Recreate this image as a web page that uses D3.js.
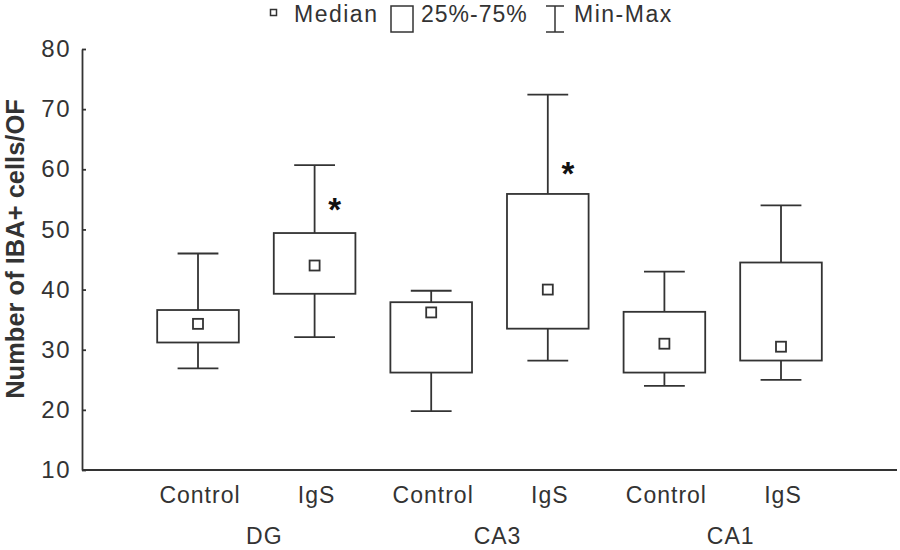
<!DOCTYPE html>
<html>
<head>
<meta charset="utf-8">
<script src="https://cdn.jsdelivr.net/npm/d3@7"></script>
<style>
  html, body { margin: 0; padding: 0; background: #fff; }
  svg { display: block; }
  text { font-family: "Liberation Sans", Arial, sans-serif; fill: #333; }
</style>
</head>
<body>
<svg id="chart" width="900" height="550"></svg>
<script>
// ---- data ----
const regions = ["DG", "CA3", "CA1"];
const conditions = ["Control", "IgS", "Control", "IgS", "Control", "IgS"];
const mins    = [26.9, 32.1, 19.8, 28.2, 24.0, 25.0];
const q1      = [31.2, 39.3, 26.2, 33.5, 26.2, 28.2];
const medians = [34.3, 44.0, 36.2, 40.0, 31.0, 30.5];
const q3      = [36.6, 49.4, 37.9, 55.9, 36.3, 44.5];
const maxs    = [46.0, 60.7, 39.8, 72.4, 43.0, 54.0];
const starBoxes  = [1, 3];
const starValues = [54.5, 60.5];
const yTicks = [10, 20, 30, 40, 50, 60, 70, 80];

// ---- layout ----
const svg = d3.select("#chart");
const ink = "#333";
const sw = 1.8;

const y = d3.scaleLinear().domain([10, 80]).range([470, 49]);
const idx = d3.range(conditions.length);
const x = d3.scalePoint().domain(idx).range([198, 781]);
const step = x(1) - x(0);
const boxW = step * 0.7;
const capW = boxW / 2;

// axes
const yAxis = d3.axisLeft(y).tickValues(yTicks).tickSizeInner(-4).tickSizeOuter(0).tickPadding(11);
const gy = svg.append("g").attr("transform", "translate(82,0)").call(yAxis);
gy.select(".domain").attr("stroke", ink).attr("stroke-width", sw);
gy.selectAll(".tick line").attr("stroke", ink).attr("stroke-width", sw);
gy.selectAll(".tick text")
  .attr("font-size", 24).attr("letter-spacing", "1.5px")
  .attr("font-family", "Liberation Sans, Arial, sans-serif").attr("fill", ink);

svg.append("line")
  .attr("x1", 82).attr("x2", 897).attr("y1", y(10)).attr("y2", y(10))
  .attr("stroke", ink).attr("stroke-width", sw);

// y title
svg.append("text")
  .attr("transform", "translate(24,249) rotate(-90)")
  .attr("text-anchor", "middle")
  .attr("font-size", 25.5).attr("font-weight", "bold")
  .text("Number of IBA+ cells/OF");

// x labels
svg.selectAll(".cond").data(idx).join("text")
  .attr("class", "cond")
  .attr("x", i => x(i) + 2).attr("y", 503)
  .attr("text-anchor", "middle")
  .attr("font-size", 23).attr("letter-spacing", "1px")
  .text(i => conditions[i]);

svg.selectAll(".region").data(regions).join("text")
  .attr("class", "region")
  .attr("x", (d, j) => (x(2 * j) + x(2 * j + 1)) / 2 + 8).attr("y", 544)
  .attr("text-anchor", "middle")
  .attr("font-size", 23).attr("letter-spacing", "1px")
  .text(d => d);

// boxes
const g = svg.append("g").attr("fill", "none").attr("stroke", ink).attr("stroke-width", sw);
idx.forEach(i => {
  const cx = x(i);
  g.append("line").attr("x1", cx).attr("x2", cx).attr("y1", y(maxs[i])).attr("y2", y(q3[i]));
  g.append("line").attr("x1", cx).attr("x2", cx).attr("y1", y(q1[i])).attr("y2", y(mins[i]));
  g.append("line").attr("x1", cx - capW / 2).attr("x2", cx + capW / 2).attr("y1", y(maxs[i])).attr("y2", y(maxs[i]));
  g.append("line").attr("x1", cx - capW / 2).attr("x2", cx + capW / 2).attr("y1", y(mins[i])).attr("y2", y(mins[i]));
  g.append("rect")
    .attr("x", cx - boxW / 2).attr("width", boxW)
    .attr("y", y(q3[i])).attr("height", y(q1[i]) - y(q3[i]))
    .attr("fill", "#fff");
  g.append("rect")
    .attr("x", cx - 5).attr("y", y(medians[i]) - 5)
    .attr("width", 10).attr("height", 10).attr("fill", "#fff");
});

// asterisks
starBoxes.forEach((b, k) => {
  svg.append("text")
    .attr("x", x(b) + 20).attr("y", y(starValues[k]) + 19)
    .attr("text-anchor", "middle")
    .attr("font-size", 33).attr("font-weight", "bold")
    .style("fill", "#111")
    .text("*");
});

// legend
const lg = svg.append("g");
lg.append("rect").attr("x", 270.5).attr("y", 9.5).attr("width", 6).attr("height", 6)
  .attr("fill", "none").attr("stroke", ink).attr("stroke-width", 1.5);
lg.append("text").attr("x", 294).attr("y", 22).attr("font-size", 23).attr("letter-spacing", "1.5px").text("Median");
lg.append("rect").attr("x", 391).attr("y", 6).attr("width", 22).attr("height", 26)
  .attr("fill", "none").attr("stroke", ink).attr("stroke-width", 1.5);
lg.append("text").attr("x", 421).attr("y", 22).attr("font-size", 23).attr("letter-spacing", "1px").text("25%-75%");
lg.append("line").attr("x1", 555).attr("x2", 555).attr("y1", 6).attr("y2", 32).attr("stroke", ink).attr("stroke-width", 1.5);
lg.append("line").attr("x1", 546).attr("x2", 564).attr("y1", 6).attr("y2", 6).attr("stroke", ink).attr("stroke-width", 1.5);
lg.append("line").attr("x1", 546).attr("x2", 564).attr("y1", 32).attr("y2", 32).attr("stroke", ink).attr("stroke-width", 1.5);
lg.append("text").attr("x", 574).attr("y", 22).attr("font-size", 23).attr("letter-spacing", "1.5px").text("Min-Max");
</script>
</body>
</html>
